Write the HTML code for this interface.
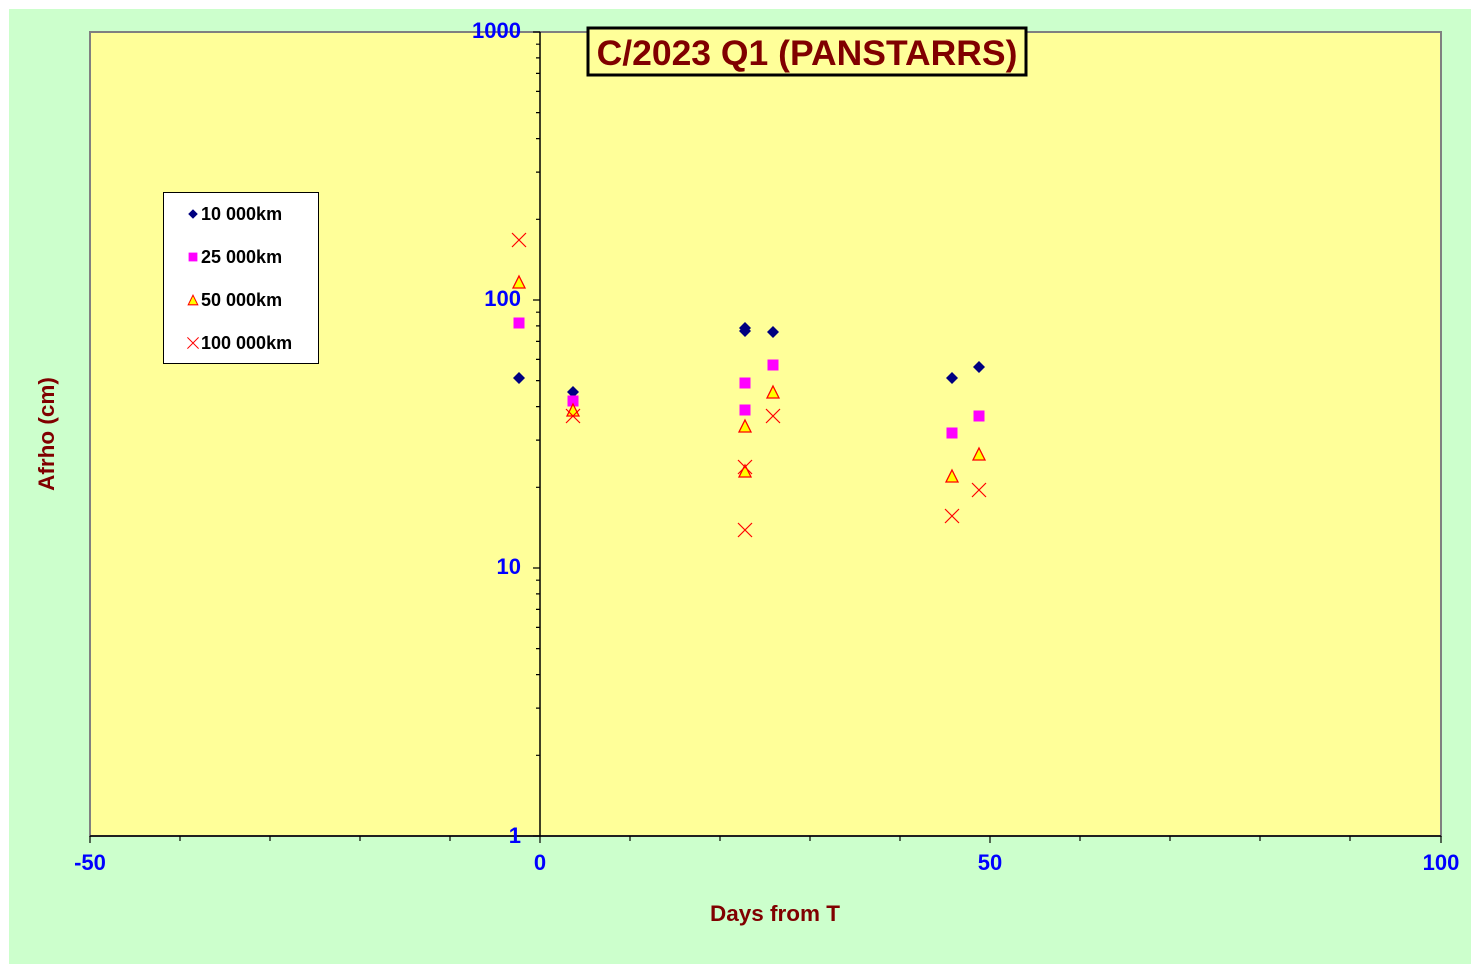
<!DOCTYPE html><html><head><style>body{margin:0;background:#fff}</style></head><body>
<svg width="1480" height="973" xmlns="http://www.w3.org/2000/svg" font-family="Liberation Sans, Arial, sans-serif" font-weight="bold">
<rect x="9" y="9" width="1462" height="955" fill="#CCFFCC"/>
<rect x="90" y="32" width="1351" height="804" fill="#FFFF99" stroke="#808080" stroke-width="2"/>
<line x1="540" y1="32" x2="540" y2="836" stroke="#000" stroke-width="1.5"/>
<line x1="90" y1="836" x2="1441" y2="836" stroke="#000" stroke-width="1.5"/>
<g stroke="#000" stroke-width="1.2">
<path id="dec" d="M533 836H540M536 755.3H540M536 708.1H540M536 674.6H540M536 648.6H540M536 627.4H540M536 609.4H540M536 593.9H540M536 580.2H540"/>
<use href="#dec" y="-268"/><use href="#dec" y="-536"/>
<path d="M533 32H540"/>
<path d="M90 836V843M180 836V841M270 836V841M360 836V841M450 836V841M540 836V843M630 836V841M720 836V841M810 836V841M900 836V841M990 836V843M1080 836V841M1170 836V841M1260 836V841M1350 836V841M1441 836V843"/>
</g>
<g fill="#0000FF" font-size="22" text-anchor="end">
<text x="521" y="38">1000</text><text x="521" y="306">100</text><text x="521" y="574">10</text><text x="521" y="843">1</text>
</g>
<g fill="#0000FF" font-size="22" text-anchor="middle">
<text x="90" y="870">-50</text><text x="540" y="870">0</text><text x="990" y="870">50</text><text x="1441" y="870">100</text>
</g>
<text x="775" y="921" fill="#800000" font-size="22.5" text-anchor="middle">Days from T</text>
<text transform="translate(54 434) rotate(-90)" fill="#800000" font-size="22.5" text-anchor="middle">Afrho (cm)</text>
<rect x="588" y="28" width="438" height="47" fill="#FFFF99" stroke="#000" stroke-width="3"/>
<text x="807" y="65" fill="#800000" font-size="35.5" text-anchor="middle">C/2023 Q1 (PANSTARRS)</text>
<defs>
<path id="d" d="M0 -6L6 0L0 6L-6 0Z" fill="#000080"/>
<rect id="s" x="-5.5" y="-5.5" width="11" height="11" fill="#FF00FF"/>
<path id="t" d="M0 -6L6 6H-6Z" fill="#FFFF00" stroke="#FF0000" stroke-width="1.3"/>
<path id="c" d="M-7 -7L7 7M7 -7L-7 7" stroke="#FF0000" stroke-width="1.2"/>
</defs>
<g>
<use href="#d" x="519" y="378"/><use href="#d" x="573" y="392"/><use href="#d" x="745" y="328"/><use href="#d" x="745" y="331"/><use href="#d" x="773" y="332"/><use href="#d" x="952" y="378"/><use href="#d" x="979" y="367"/>
<use href="#s" x="519" y="323"/><use href="#s" x="573" y="401"/><use href="#s" x="745" y="383"/><use href="#s" x="745" y="410"/><use href="#s" x="773" y="365"/><use href="#s" x="952" y="433"/><use href="#s" x="979" y="416"/>
<use href="#t" x="519" y="282"/><use href="#t" x="573" y="410"/><use href="#t" x="745" y="426"/><use href="#t" x="745" y="471"/><use href="#t" x="773" y="392"/><use href="#t" x="952" y="476"/><use href="#t" x="979" y="454"/>
<use href="#c" x="519" y="240"/><use href="#c" x="573" y="416"/><use href="#c" x="745" y="467"/><use href="#c" x="745" y="530"/><use href="#c" x="773" y="416"/><use href="#c" x="952" y="516"/><use href="#c" x="979" y="490"/>
</g>
<rect x="163.5" y="192.5" width="155" height="171" fill="#fff" stroke="#000" stroke-width="1"/>
<use href="#d" transform="translate(193 214) scale(0.8)"/><use href="#s" transform="translate(193 257) scale(0.8)"/>
<use href="#t" transform="translate(193 300) scale(0.8)"/><use href="#c" transform="translate(193 343) scale(0.8)"/>
<g font-size="18" fill="#000">
<text x="201" y="220">10 000km</text><text x="201" y="263">25 000km</text><text x="201" y="306">50 000km</text><text x="201" y="349">100 000km</text>
</g>
</svg>
</body></html>
